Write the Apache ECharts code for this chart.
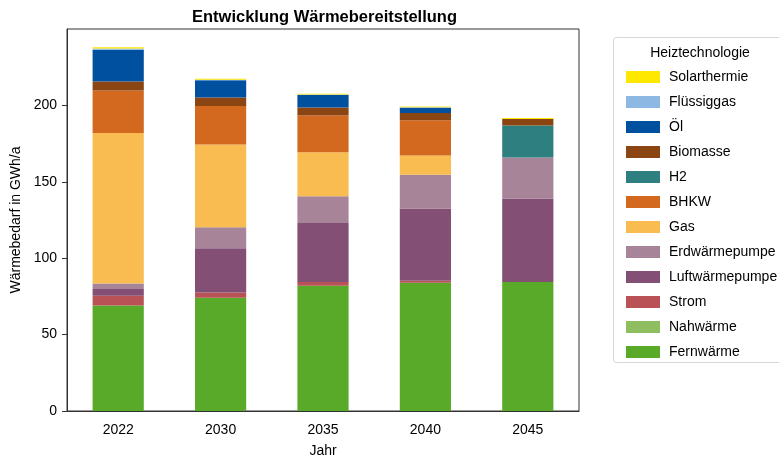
<!DOCTYPE html>
<html>
<head>
<meta charset="utf-8">
<script src="https://cdn.jsdelivr.net/npm/echarts@6/dist/echarts.min.js"></script>
<style>html,body{margin:0;padding:0;background:#fff}#c{width:779px;height:459px}</style>
</head>
<body>
<div id="c"></div>
<script>
const categories = ['2022', '2030', '2035', '2040', '2045'];
const yTicks = [0, 50, 100, 150, 200];
const fernwaerme = [69.1, 74.1, 82.0, 83.9, 84.4];
const nahwaerme = [0, 0, 0, 0, 0];
const strom = [6.3, 3.5, 2.4, 1.3, 0];
const luftwaermepumpe = [4.4, 28.9, 38.7, 47.3, 54.6];
const erdwaermepumpe = [3.7, 13.8, 17.5, 22.1, 26.9];
const gas = [98.4, 54.1, 28.8, 12.6, 0];
const bhkw = [27.9, 25.2, 24.0, 23.0, 0];
const h2 = [0, 0, 0, 0, 21.0];
const biomasse = [5.9, 5.6, 5.3, 4.8, 4.2];
const oel = [20.8, 11.2, 8.1, 3.5, 0];
const fluessiggas = [0.7, 0.4, 0.3, 0.3, 0];
const solarthermie = [0.8, 0.7, 0.6, 0.5, 0.6];

const seriesDefs = [
  ['Fernwärme', fernwaerme, '#5aaa2a'],
  ['Nahwärme', nahwaerme, '#8fbe60'],
  ['Strom', strom, '#b85256'],
  ['Luftwärmepumpe', luftwaermepumpe, '#834f74'],
  ['Erdwärmepumpe', erdwaermepumpe, '#a88499'],
  ['Gas', gas, '#f9bc50'],
  ['BHKW', bhkw, '#d2691e'],
  ['H2', h2, '#2e7f80'],
  ['Biomasse', biomasse, '#8b4513'],
  ['Öl', oel, '#0050a0'],
  ['Flüssiggas', fluessiggas, '#8db8e3'],
  ['Solarthermie', solarthermie, '#ffe800']
];

const font = 'Liberation Sans, Arial, sans-serif';
const chart = echarts.init(document.getElementById('c'), null, {renderer: 'canvas'});
chart.setOption({
  animation: false,
  title: {
    text: 'Entwicklung Wärmebereitstellung',
    left: 187, top: 4,
    textStyle: {fontFamily: font, fontSize: 16.5, fontWeight: 'bold', color: '#000'}
  },
  grid: {left: 67, right: 200, top: 29, bottom: 48, outerBoundsMode: 'none', containLabel: false, show: true, borderColor: '#333', borderWidth: 1, backgroundColor: 'transparent'},
  legend: {
    orient: 'vertical', left: 621, top: 65,
    data: seriesDefs.map(d => d[0]).slice().reverse(),
    icon: 'rect', itemWidth: 34, itemHeight: 12, itemGap: 11,
    selectedMode: false,
    textStyle: {fontFamily: font, fontSize: 14, color: '#000', padding: [0, 0, 0, 4]}
  },
  graphic: [
    {type: 'rect', shape: {x: 613.5, y: 37.5, width: 180, height: 325, r: 3}, style: {fill: '#fff', stroke: '#d6d6d6', lineWidth: 1}, z: -1},
    {type: 'text', x: 700, y: 46, style: {text: 'Heiztechnologie', fontFamily: font, fontSize: 14, fill: '#000', textAlign: 'center'}}
  ],
  xAxis: {
    type: 'category', data: categories,
    name: 'Jahr', nameLocation: 'middle', nameGap: 33,
    nameTextStyle: {fontFamily: font, fontSize: 14, color: '#000'},
    axisLine: {lineStyle: {color: '#333'}},
    axisTick: {alignWithLabel: true, length: 5, lineStyle: {color: '#333'}},
    axisLabel: {fontFamily: font, fontSize: 14, color: '#000', margin: 12}
  },
  yAxis: {
    type: 'value', min: 0, max: 250, interval: 50,
    name: 'Wärmebedarf in GWh/a', nameLocation: 'middle', nameGap: 41,
    nameTextStyle: {fontFamily: font, fontSize: 14, color: '#000'},
    splitLine: {show: false},
    axisLine: {show: true, lineStyle: {color: '#333'}},
    axisTick: {show: true, length: 5, customValues: yTicks, lineStyle: {color: '#333'}},
    axisLabel: {fontFamily: font, fontSize: 14, color: '#000', margin: 10, customValues: yTicks}
  },
  series: seriesDefs.map(d => ({
    name: d[0], type: 'bar', stack: 'total', data: d[1], barWidth: '50%',
    itemStyle: {color: d[2]}
  }))
});
</script>
</body>
</html>
